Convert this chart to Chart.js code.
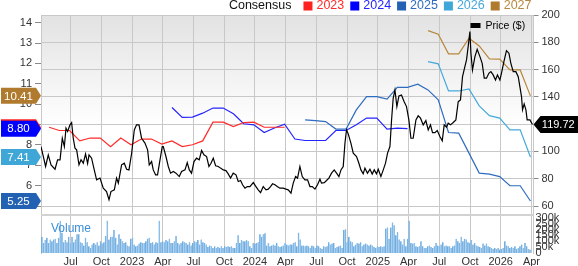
<!DOCTYPE html>
<html>
<head>
<meta charset="utf-8">
<title>Price and Consensus</title>
<script src="https://cdn.jsdelivr.net/npm/chart.js@4.4.1/dist/chart.umd.min.js"></script>
<style>
  html, body { margin: 0; padding: 0; background: #fff; }
  #wrap { width: 578px; height: 266px; }
</style>
</head>
<body>
<div id="wrap"><canvas id="chart" width="578" height="266"></canvas></div>
<script>
// Price / EPS consensus chart
// x values are months counted from Jan 2022 (0 = Jan 2022)

const tickMonths = [6, 9, 12, 15, 18, 21, 24, 27, 30, 33, 36, 39, 42, 45, 48, 51]
const tickLabels = ["Jul", "Oct", "2023", "Apr", "Jul", "Oct", "2024", "Apr", "Jul", "Oct", "2025", "Apr", "Jul", "Oct", "2026", "Apr"]

const priceTicks = [60, 80, 100, 120, 140, 160, 180, 200]
const epsTicks = [5, 6, 7, 8, 9, 10, 11, 12, 13, 14]
const volumeTicks = [0, 50, 100, 150, 200, 250, 300]

// Price ($), right axis
const priceMonths = [
  3.11, 3.34, 3.56, 3.82, 4.09, 4.48, 4.73, 4.97, 5.19, 5.39, 5.55, 5.71, 5.94, 6.10, 6.26, 6.43, 6.59, 6.82, 7.02, 7.24,
  7.46, 7.66, 7.80, 8.05, 8.31, 8.54, 8.87, 9.19, 9.51, 9.75, 9.94, 10.27, 10.49, 10.66, 10.98, 11.24, 11.47, 11.70, 11.96, 12.22,
  12.44, 12.68, 12.93, 13.26, 13.52, 13.68, 13.91, 14.07, 14.30, 14.49, 14.73, 14.95,
  15.05, 15.31, 15.54, 15.76, 16.03, 16.29, 16.61, 16.84, 17.17, 17.39, 17.59, 17.81, 18.05, 18.30, 18.56, 18.79, 19.02, 19.28, 19.51, 19.71,
  19.93, 20.16, 20.42, 20.64, 20.91, 21.17, 21.39, 21.62, 21.88, 22.15, 22.37, 22.60, 22.79, 23.03, 23.25, 23.51, 23.84, 24.10, 24.32, 24.55,
  24.81, 25.08, 25.30, 25.52, 25.72, 25.95, 26.18, 26.44, 26.76, 27.03, 27.25, 27.52,
  27.74, 27.97, 28.16, 28.39, 28.62, 28.88, 29.14, 29.37, 29.60, 29.86, 30.11, 30.35, 30.50, 30.77, 30.99, 31.22, 31.48, 31.74, 31.97, 32.20,
  32.40, 32.62, 32.79, 32.94, 33.11, 33.37, 33.60, 33.92, 34.15, 34.35, 34.57, 34.74, 34.99, 35.23, 35.45, 35.65, 35.87, 36.04, 36.30, 36.53,
  36.75, 36.95, 37.18, 37.34, 37.50, 37.67, 37.86, 38.06, 38.31, 38.57, 38.80, 39.03, 39.23, 39.45, 39.72,
  39.94, 40.17, 40.43, 40.69, 40.92, 41.14, 41.34, 41.57, 41.80, 42.06, 42.29, 42.48, 42.71, 42.87, 43.10, 43.36, 43.62, 43.85, 44.07, 44.27,
  44.50, 44.66, 44.82, 44.99, 45.09, 45.24, 45.48, 45.70, 45.97, 46.19, 46.39, 46.61, 46.84, 47.04, 47.26, 47.49, 47.68, 47.92, 48.07, 48.31,
  48.56, 48.80, 48.99, 49.22, 49.48, 49.71, 49.87, 50.03, 50.13, 50.29, 50.46, 50.58, 50.85, 51.10,
]
const priceValues = [
  103.6, 96.3, 89, 97.5, 90.2, 87, 93.9, 93.9, 109.7, 103.6, 117, 114.6, 119.5, 121.2, 109.7, 102.4, 101.2, 90.2, 93.9, 91.4,
  98.2, 91.1, 97.5, 95.1, 86.5, 79.2, 80.5, 73.1, 70.6, 64.6, 70.6, 71.9, 80.5, 76.8, 90.2, 91.4, 87, 86.5, 98.7, 115.8,
  119.5, 119.5, 109.7, 106.1, 101.2, 90.2, 92.6, 86.5, 82.9, 82.9, 93.9, 103.6,
  103.6, 96.3, 89, 84.1, 85.3, 84.1, 81.6, 85.3, 86.5, 91.9, 86.5, 84.1, 92.6, 95.1, 93.9, 100.7, 97.5, 96.3, 89, 91.4,
  95.1, 89.5, 89, 87.8, 86.5, 86, 83.6, 80.5, 84.1, 82.9, 78, 78.7, 75.6, 73.1, 74.3, 74.3, 77.2, 74.3, 71.9, 69.9,
  74.3, 71.9, 72.4, 74.3, 76.3, 75.6, 74.3, 73.1, 73.1, 72.4, 71.9, 69.5,
  76.8, 81.6, 80.5, 89, 81.6, 79.2, 79.2, 74.3, 74.3, 72.4, 75.6, 79.7, 76.8, 77.2, 78.7, 80.5, 84.1, 86.5, 84.1, 81.6,
  86.5, 89, 106.1, 115.8, 112.9, 106.1, 98.8, 96.3, 91.4, 86.5, 83.6, 87.8, 84.1, 87, 83.4, 86.5, 83.6, 87, 81.6, 86.5,
  91.4, 98.8, 103.6, 123.1, 139, 145.1, 132.9, 140.7, 141.4, 136.5, 132.9, 123.1, 109.7, 109.7, 123.1,
  126.1, 124.4, 119.5, 122.6, 115.8, 119.5, 113.8, 113.8, 115.3, 110.9, 107.8, 119.5, 117.8, 120.7, 119.5, 121.2, 123.1, 136.5, 137.8, 154.8,
  162.2, 167.1, 176.8, 187.8, 172, 159.7, 169.5, 174.9, 169.5, 164.6, 153.7, 153.7, 157.3, 158.5, 156.1, 152.4, 156.1, 152.4, 157.3, 165.8,
  173.9, 172, 164.6, 158.5, 158.5, 154.8, 147.5, 140.2, 130.5, 134.9, 130.5, 123.1, 123.1, 119.72,
]

// EPS consensus by fiscal year, left axis, monthly revisions
const consensusMonths = [
  3.9, 4.9, 5.9, 6.9, 7.9, 8.9, 9.9, 10.9, 11.9, 12.9, 13.9, 14.9, 15.9, 16.9, 17.9, 18.9,
  19.9, 20.9, 21.9, 22.9, 23.9, 24.9, 25.9, 26.9, 27.9, 28.9, 29.9, 30.9, 31.9, 32.9, 33.9, 34.9,
  35.9, 36.9, 37.9, 38.9, 39.9, 40.9, 41.9, 42.9, 43.9, 44.9, 45.9, 46.9, 47.9, 48.9, 49.9, 50.9,
]
const pad = (before, values) => Array(before).fill(null).concat(values)
const eps2023 = pad(0, [8.87, 8.71, 8.71, 8.20, 8.34, 8.34, 7.92, 8.34, 8.01, 8.29, 8.29, 8.04, 8.20, 7.92, 8.01, 8.20, 9.12, 9.12, 8.90, 9.10, 9.12, 8.87, 8.87, 8.87])
const eps2024 = pad(12, [9.84, 9.35, 9.37, 9.56, 9.81, 9.81, 9.53, 9.04, 8.99, 8.61, 8.83, 9.02, 8.29, 8.22, 8.22, 8.22, 8.71, 8.71, 8.99, 9.32, 9.32, 8.78, 8.83, 8.80])
const eps2025 = pad(25, [9.23, 9.19, 9.15, 8.78, 8.78, 9.72, 10.37, 10.37, 10.25, 10.83, 10.83, 10.98, 10.70, 10.21, 8.61, 8.58, 7.60, 6.62, 6.57, 6.45, 6.00, 6.00, 5.25])
const eps2026 = pad(37, [12.09, 11.98, 10.65, 10.65, 10.75, 9.92, 9.44, 9.32, 8.74, 8.74, 7.41])
const eps2027 = pad(37, [13.61, 13.43, 12.47, 12.47, 13.24, 12.86, 12.22, 12.21, 11.68, 11.68, 10.41])

const seriesNames = ["2023", "2024", "2025", "2026", "2027"]
const seriesValues = [eps2023, eps2024, eps2025, eps2026, eps2027]
const seriesColors = ["#ff2a2a", "#2424ff", "#2f6cc0", "#45a9dc", "#b8883c"]
const badgeColors = ["#ff2020", "#0000ff", "#2362b3", "#3fa6d8", "#b07b2e"]

// Volume (thousands), one bar per trading period
const volumeStart = 3.21
const volumeStep = 0.1638
const volumeValues = [
  138, 86, 110, 130, 86, 115, 101, 115, 121, 86, 130, 274, 173, 92, 110, 92, 138, 86, 138, 92,
  115, 159, 159, 92, 86, 63, 130, 92, 58, 43, 72, 86, 72, 92, 63, 101, 81, 92, 144, 274,
  115, 138, 138, 196, 130, 72, 159, 121, 101, 86, 92, 63, 58, 121, 130, 72, 58, 63, 81, 92,
  86, 86, 101, 121, 130, 86, 92, 72, 92, 86, 274, 92, 101, 92, 110, 101, 121, 86, 86, 101,
  144, 86, 72, 86, 101, 92, 86, 72, 92, 63, 86, 101, 92, 110, 72, 115, 92, 86, 72, 52,
  63, 58, 43, 58, 43, 52, 43, 58, 43, 58, 52, 58, 52, 58, 43, 43, 86, 150, 86, 110,
  101, 101, 110, 101, 58, 43, 86, 81, 86, 92, 159, 138, 159, 167, 63, 86, 58, 63, 72, 63,
  86, 58, 52, 58, 63, 86, 72,
  63, 72, 72, 86, 92, 58, 173, 115, 63, 63, 58, 63, 58, 43, 63, 58, 43, 63, 58, 43,
  35, 58, 52, 58, 92, 72, 81, 86, 43, 52, 58, 63, 43, 196, 202, 92, 138, 101, 92, 58,
  72, 86, 81, 92, 58, 72, 81, 72, 63, 72, 63, 52, 43, 58, 52, 58, 52, 58, 208, 216,
  121, 216, 259, 236, 150, 179, 115, 101, 72, 121, 58, 121, 274, 86, 81, 86, 58, 52, 58, 101,
  58, 43, 43, 58, 63, 52, 43, 58, 86, 63, 58, 72, 92, 58, 63, 58, 58, 43, 58, 63,
  121, 101, 86, 138, 101, 121, 115, 92, 86, 110, 72, 86, 63, 58, 52, 43, 81, 63, 81, 58,
  52, 43, 35, 43, 35, 43, 29, 35, 43, 101, 63, 58, 43, 52, 43, 58, 35, 43, 58, 72,
  43, 86, 58, 35, 29,
]
const volumeMonths = volumeValues.map((v, i) => volumeStart + i * volumeStep)

const lastPrice = priceValues[priceValues.length - 1]

const FONT = "'Liberation Sans', Arial, Helvetica, sans-serif"
Chart.defaults.font.family = FONT
Chart.defaults.font.size = 11
Chart.defaults.color = "#333"

function toPoints(xs, ys) {
  return xs.map((x, i) => ({ x: x, y: ys[i] })).filter((p) => p.y !== null)
}

function lastValue(arr) {
  for (let i = arr.length - 1; i >= 0; i--) if (arr[i] !== null) return arr[i]
  return null
}

// Left-side pentagon badge pointing at the plot
function leftBadge(ctx, text, y, fill, tipX) {
  const h = 16
  const bodyRight = tipX - 5
  ctx.beginPath()
  ctx.moveTo(1, y - h / 2)
  ctx.lineTo(bodyRight, y - h / 2)
  ctx.lineTo(tipX, y)
  ctx.lineTo(bodyRight, y + h / 2)
  ctx.lineTo(1, y + h / 2)
  ctx.closePath()
  ctx.fillStyle = fill
  ctx.fill()
  ctx.fillStyle = "#fff"
  ctx.font = "11.5px " + FONT
  ctx.textAlign = "center"
  ctx.textBaseline = "middle"
  ctx.fillText(text, (1 + bodyRight) / 2, y + 0.5)
}

function rightBadge(ctx, text, y, tipX, endX) {
  const h = 17
  const bodyLeft = tipX + 7
  ctx.beginPath()
  ctx.moveTo(tipX, y)
  ctx.lineTo(bodyLeft, y - h / 2)
  ctx.lineTo(endX, y - h / 2)
  ctx.lineTo(endX, y + h / 2)
  ctx.lineTo(bodyLeft, y + h / 2)
  ctx.closePath()
  ctx.fillStyle = "#000"
  ctx.fill()
  ctx.fillStyle = "#fff"
  ctx.font = "11px " + FONT
  ctx.textAlign = "center"
  ctx.textBaseline = "middle"
  ctx.fillText(text, (bodyLeft + endX) / 2 - 1, y + 0.5)
}

const panelsPlugin = {
  id: "panels",
  beforeDraw(chart) {
    const { ctx, chartArea: a, scales } = chart
    const sepY = scales.yVol.getPixelForValue(320)
    ctx.save()
    ctx.fillStyle = "#fff"
    ctx.fillRect(0, 0, chart.width, chart.height)
    const g = ctx.createLinearGradient(0, a.top, 0, sepY)
    g.addColorStop(0, "#e2e2e2")
    g.addColorStop(0.55, "#ffffff")
    g.addColorStop(1, "#ffffff")
    ctx.fillStyle = g
    ctx.fillRect(a.left, a.top, a.right - a.left, sepY - a.top)
    ctx.restore()
  },
  beforeDatasetsDraw(chart) {
    const { ctx, chartArea: a, scales } = chart
    const sepY = Math.round(scales.yVol.getPixelForValue(320))
    ctx.save()
    ctx.fillStyle = "#d2d2d2"
    ctx.fillRect(a.left, sepY - 1, a.right - a.left, 2)
    ctx.restore()
  },
  afterDraw(chart) {
    const { ctx, chartArea: a, scales } = chart
    ctx.save()

    // volume axis labels (they crowd together, as in the original)
    ctx.font = "11px " + FONT
    ctx.fillStyle = "#333"
    ctx.textAlign = "left"
    ctx.textBaseline = "middle"
    volumeTicks.forEach((v) => {
      ctx.fillText(v === 0 ? "0" : v + "k", a.right + 2, scales.yVol.getPixelForValue(v))
    })

    // "Volume" label
    const sepY = scales.yVol.getPixelForValue(320)
    ctx.font = "12px " + FONT
    ctx.fillStyle = "#3b8fd6"
    ctx.fillText("Volume", a.left + 10, sepY + 13.5)

    // Price ($) key
    ctx.fillStyle = "#000"
    ctx.fillRect(a.right - 63, a.top + 8, 10, 5)
    ctx.font = "10.5px " + FONT
    ctx.fillText("Price ($)", a.right - 48, a.top + 11)

    // consensus legend on top, right aligned
    ctx.font = "12.5px " + FONT
    ctx.textBaseline = "middle"
    let cursor = a.right - 2
    const legendY = 6
    for (let i = seriesNames.length - 1; i >= 0; i--) {
      const w = ctx.measureText(seriesNames[i]).width
      const tx = cursor - w
      ctx.fillStyle = seriesColors[i]
      ctx.fillText(seriesNames[i], tx, legendY)
      ctx.fillStyle = badgeColors[i]
      ctx.fillRect(tx - 13, legendY - 4.5, 9, 9)
      cursor = tx - 13 - 6
    }
    ctx.fillStyle = "#111"
    ctx.textAlign = "right"
    ctx.fillText("Consensus", cursor - 6, legendY)

    // left badges with the latest consensus values
    seriesValues.forEach((vals, i) => {
      const v = lastValue(vals)
      leftBadge(ctx, v.toFixed(2), scales.yEps.getPixelForValue(v), badgeColors[i], a.left)
    })

    // right badge with latest price
    rightBadge(ctx, lastPrice.toFixed(2), scales.yPrice.getPixelForValue(lastPrice), a.right, chart.width)

    ctx.restore()
  },
}

const datasets = [
  {
    type: "line",
    label: "Price ($)",
    data: toPoints(priceMonths, priceValues),
    yAxisID: "yPrice",
    borderColor: "#000",
    borderWidth: 1.2,
    pointRadius: 0,
    order: 0,
  },
]
seriesValues.forEach((vals, i) => {
  datasets.push({
    type: "line",
    label: seriesNames[i],
    data: toPoints(consensusMonths, vals),
    yAxisID: "yEps",
    borderColor: seriesColors[i],
    borderWidth: 1.2,
    pointRadius: 0,
    order: 1 + i,
  })
})
datasets.push({
  type: "bar",
  label: "Volume",
  data: toPoints(volumeMonths, volumeValues),
  yAxisID: "yVol",
  backgroundColor: "#8cbfe9",
  borderColor: "#5b9fd9",
  borderWidth: { left: 0.6, right: 0, top: 0, bottom: 0 },
  barThickness: 1.3,
  order: 10,
})

new Chart(document.getElementById("chart"), {
  type: "line",
  data: { datasets: datasets },
  options: {
    responsive: false,
    animation: false,
    devicePixelRatio: 1,
    layout: { padding: { top: 15, left: 0, right: 0, bottom: 0 } },
    plugins: {
      legend: { display: false },
      tooltip: { enabled: false },
    },
    scales: {
      x: {
        type: "linear",
        min: 3.11,
        max: 51.2,
        offset: false,
        afterBuildTicks: (s) => {
          s.ticks = tickMonths.map((v) => ({ value: v }))
        },
        afterFit: (s) => {
          s.height = 13
        },
        grid: { color: "#c8c8c8", drawTicks: false, offset: false },
        border: { display: false },
        ticks: {
          padding: 2,
          maxRotation: 0,
          autoSkip: false,
          color: "#333",
          font: { size: 11 },
          callback: (v) => {
            const i = tickMonths.indexOf(v)
            return i >= 0 ? tickLabels[i] : ""
          },
        },
      },
      yEps: {
        position: "left",
        min: 2.7,
        max: 14.377,
        afterBuildTicks: (s) => {
          s.ticks = epsTicks.map((v) => ({ value: v }))
        },
        afterFit: (s) => {
          s.width = 41
        },
        grid: { drawOnChartArea: false, tickLength: 6, tickColor: "#8a8a8a" },
        border: { display: true, color: "#c8c8c8" },
        ticks: { padding: 3, color: "#333", font: { size: 11 } },
      },
      yPrice: {
        position: "right",
        min: 25.6,
        max: 200,
        afterBuildTicks: (s) => {
          s.ticks = priceTicks.map((v) => ({ value: v }))
        },
        afterFit: (s) => {
          s.width = 44.5
        },
        grid: { color: "#c8c8c8", tickLength: 5, tickColor: "#8a8a8a" },
        border: { display: true, color: "#c8c8c8" },
        ticks: { padding: 3, color: "#333", font: { size: 11 } },
      },
      yVol: {
        display: false,
        min: 0,
        max: 2025,
      },
    },
  },
  plugins: [panelsPlugin],
})
</script>
</body>
</html>
